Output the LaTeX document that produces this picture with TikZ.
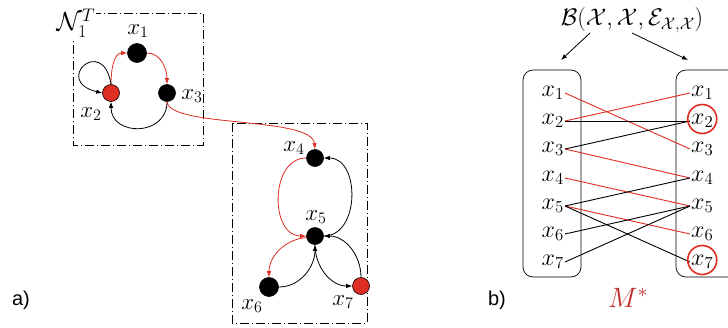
\RequirePackage{fix-cm}
\documentclass[tikz,border=0pt]{standalone}
\usepackage{fontspec}
\newfontfamily\labsans{Liberation Sans}
\usetikzlibrary{arrows.meta}
\definecolor{myred}{RGB}{222,45,35}
\definecolor{mred}{RGB}{190,40,40}
\begin{document}
\begin{tikzpicture}[x=1pt,y=-1pt,
  vtx/.style={circle,fill=black,draw=black,line width=0.6pt,inner sep=0pt,minimum size=17pt},
  rvtx/.style={vtx,fill=myred},
  lab/.style={font=\fontsize{23}{27}\selectfont,inner sep=1pt},
  rlab/.style={font=\fontsize{24}{28}\selectfont,inner sep=1pt},
  bedge/.style={line width=0.8pt,-{Latex[length=6pt,width=4.5pt]}},
  redge/.style={bedge,draw=myred,-{Latex[length=6pt,width=4.5pt,color=myred]}},
  ddbox/.style={line width=0.7pt,dash pattern=on 9pt off 3pt on 1pt off 3pt},
  rbox/.style={draw,line width=0.7pt,rounded corners=10pt},
  bline/.style={line width=0.9pt},
  rline/.style={line width=0.9pt,draw=myred},
  ring/.style={circle,draw=myred,line width=1.6pt,minimum size=29pt,inner sep=0pt},
  pan/.style={font=\labsans\fontsize{20}{24}\selectfont}
]
\clip (0,0) rectangle (728,327);
\fill[white] (0,0) rectangle (728,327);

% ---- panel a, box 1
\draw[ddbox] (73,13) rectangle (203,145);
\node[font=\fontsize{26}{30}\selectfont,fill=white,inner sep=1pt] (N) at (76,23) {$\mathcal{N}_1^T$};
\node[vtx,minimum size=19pt] (x1) at (137,53) {};
\node[rvtx] (x2) at (111,93) {};
\node[vtx] (x3) at (167,93) {};
\node[lab] (lx1) at (138,31) {$x_1$};
\node[lab] (lx2) at (91,114) {$x_2$};
\node[lab] (lx3) at (192,96) {$x_3$};
\draw[redge] (x2.north) to[out=90,in=180] (x1.west);
\draw[redge] (x1.east) to[out=0,in=90] (x3.north);
\draw[bedge] (x3.south) to[out=-90,in=-90,looseness=1.6] (x2.south);
\draw[bedge] (x2.north) .. controls +(-8,-50) and +(-50,-12) .. (x2.west);

% ---- box 2
\draw[ddbox] (232,123) rectangle (367,323);
\node[vtx] (x4) at (315,158) {};
\node[vtx] (x5) at (315,236) {};
\node[vtx,minimum size=19pt] (x6) at (269,287) {};
\node[rvtx] (x7) at (361,286) {};
\node[lab] (lx4) at (294,148) {$x_4$};
\node[lab] (lx5) at (316,217) {$x_5$};
\node[lab] (lx6) at (252,306) {$x_6$};
\node[lab] (lx7) at (343,302) {$x_7$};
\draw[redge] (x3.south) .. controls (170,128) and (312,116) .. (x4.north);
\draw[redge] (x4.west) to[out=180,in=180,looseness=1.2] (x5.west);
\draw[bedge] (x5.east) to[out=0,in=0,looseness=1.2] (x4.east);
\draw[redge] (x5.190) to[out=185,in=90] (x6.north);
\draw[bedge] (x6.east) to[out=0,in=-90] (x5.south);
\draw[bedge] (x5.south) to[out=-90,in=180] (x7.west);
\draw[bedge] (x7.north) to[out=90,in=0] (x5.east);

\node[pan] (pa) at (21,300) {a)};
\node[pan] (pb) at (497,300) {b)};

% ---- panel b
\node[font=\fontsize{24}{28}\selectfont] (title) at (632,20) {$\mathcal{B}(\mathcal{X},\mathcal{X},\mathcal{E}_{\mathcal{X},\mathcal{X}})$};
\coordinate (t1) at (590,33);
\coordinate (t2) at (632,33);
\coordinate (h1) at (561,60);
\coordinate (h2) at (688,60);
\draw[bedge] (t1) -- (h1);
\draw[bedge] (t2) -- (h2);
\draw[rbox] (523,70) rectangle (581,277);
\draw[rbox] (676,70) rectangle (745,277);
\foreach \i/\y in {1/93,2/121,3/149,4/178,5/206,6/234,7/262}{
  \node[rlab,anchor=east] (l\i) at (565,\y) {$x_{\i}$};
  \node[rlab,anchor=west] (r\i) at (690,\y) {$x_{\i}$};
}
\draw[rline] (l1.east) -- (r3.west);
\draw[rline] (l2.east) -- (r1.west);
\draw[rline] (l3.east) -- (r4.west);
\draw[rline] (l4.east) -- (r5.west);
\draw[rline] (l5.east) -- (r6.west);
\draw[bline] (l2.east) -- (r2.west);
\draw[bline] (l3.east) -- (r2.west);
\draw[bline] (l5.east) -- (r4.west);
\draw[bline] (l5.east) -- (r7.west);
\draw[bline] (l6.east) -- (r5.west);
\draw[bline] (l7.east) -- (r5.west);
\node[ring,yshift=2pt] (c2) at (r2) {};
\node[ring,yshift=2pt] (c7) at (r7) {};
\node[font=\fontsize{28}{32}\selectfont,text=mred] (M) at (628,298) {$M^*$};
\end{tikzpicture}
\end{document}
